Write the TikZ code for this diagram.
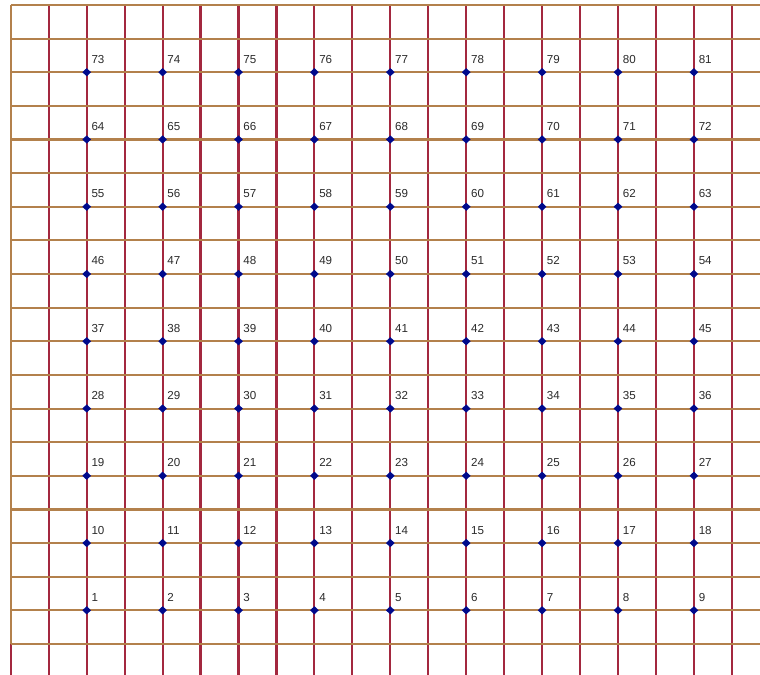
\documentclass[tikz,border=0pt]{standalone}
\usepackage{fontspec}
\setmainfont{Liberation Sans}
\usetikzlibrary{shapes.geometric}

\definecolor{gridred}{HTML}{A3283F}
\definecolor{gridbrown}{HTML}{B3814C}
\definecolor{ptblue}{HTML}{000A8C}
\definecolor{lbltext}{HTML}{2A2A2A}

\begin{document}
\begin{tikzpicture}[x=0.02cm, y=-0.02cm,
		vline/.style={draw=gridred, line width=1.2pt},
		hline/.style={draw=gridbrown, line width=1.2pt},
		ptmark/.style={shape=diamond, fill=ptblue, inner sep=0pt, minimum width=0.18cm, minimum height=0.17cm},
		ptlabel/.style={inner sep=0pt, text=lbltext, font=\fontsize{6.6}{7}\selectfont}]
			\useasboundingbox (0, 0) rectangle (760, 675);
			% grid
			\foreach \k in {0,...,19}
				\draw[vline] ({10.8+37.95*\k}, 5) -- ({10.8+37.95*\k}, 675);
			\foreach \k in {0,...,19}
				\draw[hline] (10.8, {5+33.63*\k}) -- (760, {5+33.63*\k});
			\draw[hline] (10.8, 5) -- (10.8, 644);
			% points 1..81
			\foreach \r in {0,...,8}
				\foreach \c in {0,...,8}{
					\pgfmathtruncatemacro{\n}{9*\r+\c+1}
					\node[ptmark](P\n) at ({86.7+75.9*\c}, {610.3-67.26*\r}){};
					\node[ptlabel, anchor=base west](L\n) at ([shift={(4.5,-9)}]P\n.center){\n};
				}
		\end{tikzpicture}
\end{document}
